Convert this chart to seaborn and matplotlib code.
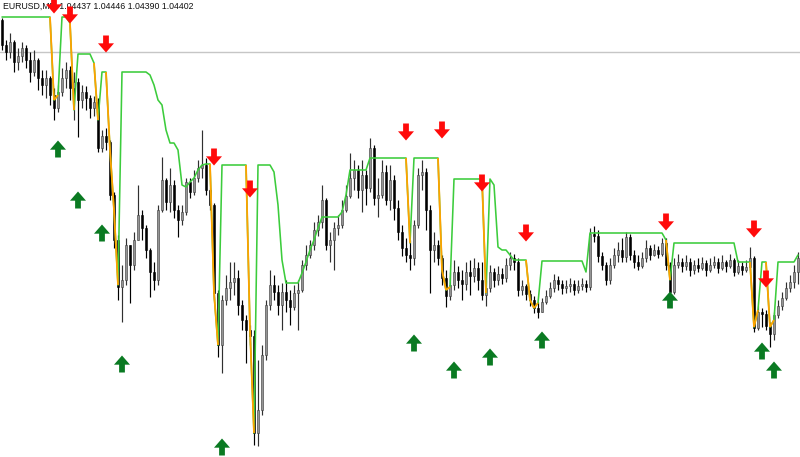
import numpy as np
import pandas as pd
import seaborn as sns
import matplotlib.pyplot as plt
from matplotlib.path import Path
from matplotlib.collections import LineCollection

# Chart values in screen rows (0 = top edge, 457 = bottom)
# and turned into prices below. One candle every 4 px.
header = "EURUSD,M5  1.04437 1.04446 1.04390 1.04402"
bid = 1.04402
first_open = 20

close_rows = [
    45, 52, 42, 62, 56, 48, 60, 72, 60, 78, 85, 78, 95, 108, 92, 78, 70, 88, 82, 100, 92, 98, 108, 102, 148,
    136, 142, 195, 240, 287, 280, 245, 265, 240, 215, 228, 250, 272, 280, 210, 180, 202, 185, 210, 220, 212, 182, 192, 178, 168,
    165, 190, 205, 293, 345, 300, 288, 282, 278, 305, 320, 330, 336, 433, 410, 355, 305, 285, 292, 305, 292, 300, 307, 293, 290,
    265, 255, 245, 230, 222, 200, 245, 240, 228, 225, 210, 196, 178, 170, 190, 175, 188, 148, 198, 195, 172, 200, 180, 208, 232,
    248, 255, 258, 225, 175, 172, 210, 250, 245, 258, 278, 296, 285, 272, 280, 284, 272, 276, 268, 280, 295, 288, 272, 280, 274,
    278, 265, 258, 262, 290, 286, 294, 300, 308, 312, 302, 296, 288, 280, 284, 288, 286, 284, 290, 286, 284, 287, 234, 236, 256,
    265, 280, 265, 255, 250, 257, 237, 255, 262, 266, 258, 248, 255, 250, 254, 243, 265, 292, 265, 262, 266, 262, 270, 265, 268,
    263, 270, 265, 262, 268, 262, 266, 260, 272, 266, 270, 267, 258, 328, 312, 314, 326, 334, 315, 306, 298, 288, 282, 272, 258,
]
high_rows = [
    18, 40, 33, 40, 48, 42, 45, 52, 50, 58, 70, 70, 76, 88, 85, 68, 62, 66, 72, 78, 85, 86, 95, 96, 98,
    130, 128, 140, 192, 235, 265, 238, 250, 232, 185, 210, 225, 248, 262, 205, 157, 178, 168, 180, 205, 205, 178, 178, 170, 160,
    130, 158, 188, 203, 290, 295, 275, 262, 262, 270, 300, 315, 325, 330, 360, 345, 300, 270, 275, 285, 283, 280, 290, 285, 280,
    260, 245, 240, 222, 215, 185, 198, 232, 222, 215, 200, 185, 153, 160, 165, 160, 170, 138, 145, 178, 160, 165, 165, 175, 200,
    225, 238, 240, 220, 168, 160, 168, 205, 232, 240, 255, 270, 272, 260, 266, 270, 262, 260, 258, 262, 262, 280, 265, 268, 266,
    268, 258, 252, 254, 258, 280, 284, 290, 296, 302, 298, 290, 282, 274, 276, 280, 280, 278, 280, 280, 278, 280, 228, 226, 230,
    252, 262, 258, 248, 242, 238, 232, 234, 250, 255, 252, 240, 245, 244, 246, 238, 238, 262, 258, 254, 258, 255, 258, 260, 258,
    257, 260, 258, 256, 258, 255, 260, 254, 258, 260, 262, 260, 247, 256, 306, 308, 310, 322, 312, 300, 292, 282, 275, 265, 252,
]
low_rows = [
    50, 60, 58, 72, 70, 62, 68, 82, 76, 90, 95, 98, 105, 120, 112, 96, 88, 100, 120, 137, 108, 110, 118, 116, 152,
    152, 150, 200, 248, 300, 322, 285, 303, 270, 240, 240, 258, 297, 290, 285, 212, 210, 212, 218, 237, 225, 215, 198, 195, 182,
    178, 195, 210, 300, 357, 373, 305, 300, 295, 315, 330, 363, 345, 445, 446, 415, 360, 310, 300, 315, 330, 312, 325, 310, 330,
    292, 270, 258, 250, 236, 228, 250, 262, 270, 235, 228, 212, 198, 190, 198, 212, 205, 192, 205, 217, 198, 205, 210, 220, 240,
    256, 262, 270, 265, 228, 190, 230, 293, 262, 265, 285, 307, 300, 290, 288, 300, 290, 295, 282, 290, 300, 306, 292, 287, 285,
    284, 282, 270, 270, 296, 295, 300, 306, 313, 318, 312, 304, 298, 292, 290, 294, 293, 292, 295, 293, 290, 292, 290, 242, 262,
    270, 285, 284, 268, 262, 262, 262, 260, 268, 270, 268, 262, 260, 256, 258, 256, 270, 296, 294, 268, 272, 270, 276, 274, 272,
    270, 276, 272, 268, 273, 270, 272, 268, 276, 274, 275, 272, 270, 332, 330, 327, 330, 347, 340, 318, 310, 300, 292, 288, 284,
]
stop_rows = [
    17, 17, 17, 17, 17, 17, 17, 17, 17, 17, 17, 17, 17, 100, 95, 17, 17, 23, 110, 54, 54, 54, 54, 63, 120,
    72, 72, 150, 210, 285, 72, 72, 72, 72, 72, 72, 72, 75, 85, 100, 105, 130, 143, 143, 150, 185, 187, 182, 178, 170,
    165, 164, 164, 293, 345, 165, 165, 165, 165, 165, 165, 165, 330, 433, 165, 165, 165, 165, 172, 205, 260, 283, 283, 283, 283,
    273, 262, 250, 240, 228, 217, 217, 217, 217, 217, 212, 195, 170, 170, 170, 170, 170, 158, 158, 158, 158, 158, 158, 158, 158,
    158, 158, 243, 158, 158, 158, 158, 158, 158, 158, 270, 290, 287, 179, 179, 179, 179, 179, 179, 179, 179, 293, 179, 185, 247,
    250, 250, 255, 260, 260, 260, 260, 300, 308, 303, 261, 261, 261, 261, 261, 261, 261, 261, 261, 261, 261, 272, 233, 233, 233,
    233, 233, 233, 233, 233, 233, 233, 233, 233, 233, 233, 233, 233, 233, 233, 233, 240, 280, 243, 243, 243, 243, 243, 243, 243,
    243, 243, 243, 243, 243, 243, 243, 243, 243, 262, 262, 262, 262, 327, 310, 262, 262, 327, 320, 262, 262, 262, 262, 262, 255,
]
# segments i -> i+1 drawn in orange
orange_starts = [12, 13, 17, 23, 26, 27, 28, 52, 53, 61, 62, 101, 109, 110, 111,
                 120, 131, 132, 133, 166, 187, 188, 191, 192]

sell_bars = [13, 17, 26, 53, 62, 101, 110, 120, 131, 166, 188, 191]
sell_rows = [5, 15, 44, 157, 189, 132, 130, 183, 233, 222, 229, 279]
buy_bars = [14, 19, 25, 30, 55, 103, 113, 122, 135, 167, 190, 193]
buy_rows = [149, 200, 233, 364, 447, 343, 370, 357, 340, 300, 351, 370]


def to_price(rows):
    return bid + (52 - np.asarray(rows, dtype=float)) * 0.00002


n = len(close_rows)
bars = np.arange(n)
close = to_price(close_rows)
opn = to_price([first_open] + close_rows[:-1])
high = np.maximum(to_price(high_rows), np.maximum(opn, close))
low = np.minimum(to_price(low_rows), np.minimum(opn, close))
stop = to_price(stop_rows)

df = pd.DataFrame({"bar": bars, "open": opn, "high": high, "low": low,
                   "close": close, "stop": stop})
up = df["close"] >= df["open"]

sns.set_theme(style="white")
fig = plt.figure(figsize=(8, 4.57), dpi=100)
ax = fig.add_axes([0, 0, 1, 1])

# bid line
ax.axhline(bid, color="#c6c6c6", lw=1.0, zorder=1)

# candles
ax.vlines(df["bar"], df["low"], df["high"],
          colors=np.where(up, "#303030", "#000000"), lw=0.85, zorder=2)
ax.bar(df["bar"], df["close"] - df["open"], bottom=df["open"], width=0.72,
       color=np.where(up, "#959595", "#000000"),
       edgecolor=np.where(up, "#3a3a3a", "#000000"),
       linewidth=0.4, zorder=3)

# trailing stop line
sns.lineplot(data=df, x="bar", y="stop", color="#3ccc3c", lw=1.15,
             ax=ax, zorder=4, legend=False)
segs = [[(i, stop[i]), (i + 1, stop[i + 1])] for i in orange_starts]
ax.add_collection(LineCollection(segs, colors="#ffa200", linewidths=1.3, zorder=5))

# header text
ax.text(3 / 800, 1 - 2 / 457, header, transform=ax.transAxes, fontsize=6.3,
        family="Liberation Sans", color="#111111", va="top", ha="left", zorder=6)

# arrows
down_arrow = Path([(-0.17, 0.5), (0.17, 0.5), (0.17, 0.04), (0.47, 0.04),
                   (0.0, -0.5), (-0.47, 0.04), (-0.17, 0.04), (-0.17, 0.5)])
up_arrow = Path([(x, -y) for x, y in down_arrow.vertices])
sns.scatterplot(x=sell_bars, y=to_price(sell_rows), marker=down_arrow, s=150,
                color="#ff0a0a", edgecolor="none", linewidth=0, ax=ax,
                zorder=7, legend=False)
sns.scatterplot(x=buy_bars, y=to_price(buy_rows), marker=up_arrow, s=150,
                color="#0a7a22", edgecolor="none", linewidth=0, ax=ax,
                zorder=7, legend=False)

ax.set_xlim(-0.5, n - 0.5)
ax.set_ylim(to_price(457), to_price(0))
ax.axis("off")

fig.savefig("out.png", dpi=100)
